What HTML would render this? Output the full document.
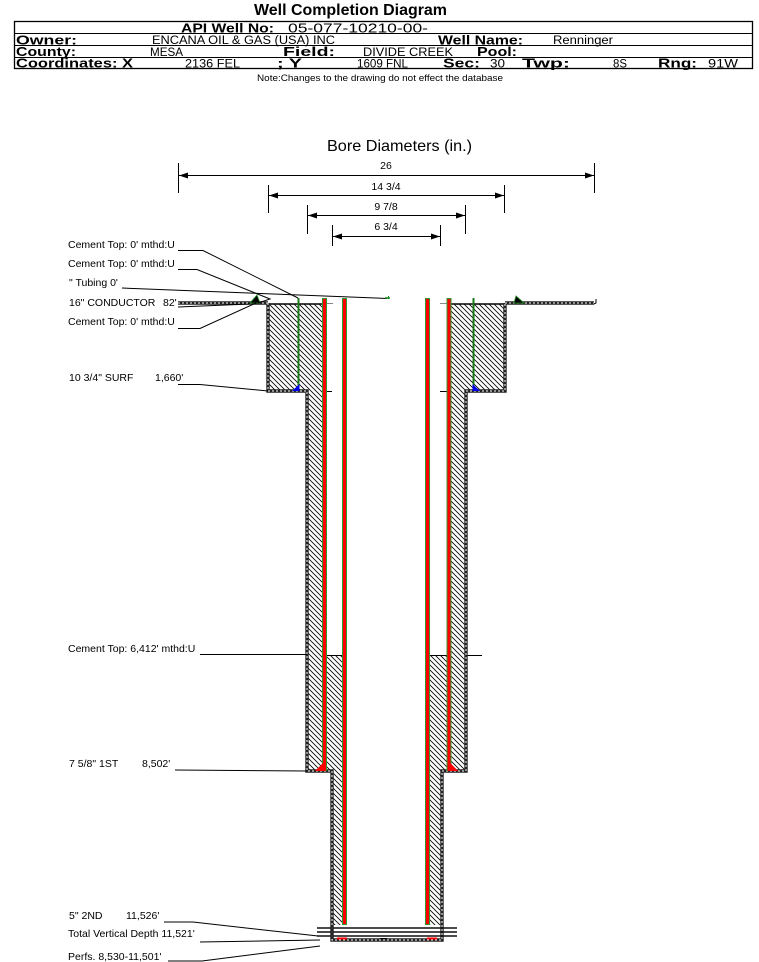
<!DOCTYPE html>
<html><head><meta charset="utf-8"><style>
html,body{margin:0;padding:0;background:#fff;}
svg{display:block;}
text{font-family:"Liberation Sans",Arial,sans-serif;fill:#000;}
.b{font-weight:bold;font-size:12.5px;}
.v{font-size:11.5px;}
.l{font-size:10.5px;}
</style></head><body>
<svg width="759" height="962" viewBox="0 0 759 962" xmlns="http://www.w3.org/2000/svg">
<defs>
<pattern id="h" patternUnits="userSpaceOnUse" width="5" height="5">
<path d="M0,0L5,5M-1,4L1,6M4,-1L6,1" stroke="#000" stroke-width="0.8"/>
</pattern>
</defs>

<!-- Header -->
<text x="254" y="15" font-size="16" font-weight="bold" textLength="193" lengthAdjust="spacingAndGlyphs">Well Completion Diagram</text>
<rect x="14.5" y="21.5" width="738" height="47" fill="none" stroke="#000" stroke-width="1.3"/>
<line x1="14" y1="33.5" x2="753" y2="33.5" stroke="#000" stroke-width="1"/>
<line x1="14" y1="45.5" x2="753" y2="45.5" stroke="#000" stroke-width="1"/>
<line x1="14" y1="57.5" x2="753" y2="57.5" stroke="#000" stroke-width="1"/>

<text class="b" x="181" y="32.5" font-size="13" textLength="93" lengthAdjust="spacingAndGlyphs">API Well No:</text>
<text x="288" y="32.5" font-size="12.5" textLength="140" lengthAdjust="spacingAndGlyphs">05-077-10210-00-</text>

<text class="b" x="16" y="44.5" textLength="61" lengthAdjust="spacingAndGlyphs">Owner:</text>
<text class="v" x="152" y="44" textLength="183" lengthAdjust="spacingAndGlyphs">ENCANA OIL &amp; GAS (USA) INC</text>
<text class="b" x="438" y="44.5" textLength="85" lengthAdjust="spacingAndGlyphs">Well Name:</text>
<text class="v" x="553" y="44" textLength="60" lengthAdjust="spacingAndGlyphs">Renninger</text>

<text class="b" x="16" y="56" textLength="60" lengthAdjust="spacingAndGlyphs">County:</text>
<text class="v" x="150" y="56" textLength="33" lengthAdjust="spacingAndGlyphs">MESA</text>
<text class="b" x="283" y="56" textLength="52" lengthAdjust="spacingAndGlyphs">Field:</text>
<text class="v" x="363" y="56" textLength="90" lengthAdjust="spacingAndGlyphs">DIVIDE CREEK</text>
<text class="b" x="477" y="56" textLength="40" lengthAdjust="spacingAndGlyphs">Pool:</text>

<text class="b" x="16" y="67.5" textLength="117" lengthAdjust="spacingAndGlyphs">Coordinates: X</text>
<text class="v" x="185" y="67.5" textLength="55" lengthAdjust="spacingAndGlyphs">2136 FEL</text>
<text class="b" x="277" y="67.5" textLength="25" lengthAdjust="spacingAndGlyphs">; Y</text>
<text class="v" x="357" y="67.5" textLength="51" lengthAdjust="spacingAndGlyphs">1609 FNL</text>
<text class="b" x="443" y="67.5" textLength="37" lengthAdjust="spacingAndGlyphs">Sec:</text>
<text class="v" x="490" y="67.5" textLength="15" lengthAdjust="spacingAndGlyphs">30</text>
<text class="b" x="522" y="67.5" textLength="48" lengthAdjust="spacingAndGlyphs">Twp:</text>
<text class="v" x="613" y="67.5" textLength="14" lengthAdjust="spacingAndGlyphs">8S</text>
<text class="b" x="658" y="67.5" textLength="39" lengthAdjust="spacingAndGlyphs">Rng:</text>
<text class="v" x="708" y="67.5" textLength="30" lengthAdjust="spacingAndGlyphs">91W</text>

<text x="257" y="81" font-size="9.5" textLength="246" lengthAdjust="spacingAndGlyphs">Note:Changes to the drawing do not effect the database</text>

<!-- Bore diameters -->
<text x="327" y="151" font-size="16" textLength="145" lengthAdjust="spacingAndGlyphs">Bore Diameters (in.)</text>
<g stroke="#000" stroke-width="1">
<line x1="178.5" y1="163" x2="178.5" y2="193"/><line x1="594.5" y1="163" x2="594.5" y2="193"/>
<line x1="179" y1="175.5" x2="594" y2="175.5"/>
<line x1="268.5" y1="185" x2="268.5" y2="213"/><line x1="504.5" y1="185" x2="504.5" y2="213"/>
<line x1="269" y1="195.5" x2="504" y2="195.5"/>
<line x1="307.5" y1="205" x2="307.5" y2="234"/><line x1="465.5" y1="205" x2="465.5" y2="234"/>
<line x1="308" y1="215.5" x2="465" y2="215.5"/>
<line x1="332.5" y1="225" x2="332.5" y2="246"/><line x1="440.5" y1="225" x2="440.5" y2="246"/>
<line x1="333" y1="236.5" x2="440" y2="236.5"/>
</g>
<g fill="#000">
<path d="M179,175.5 L188,172.5 L188,178.5Z"/><path d="M594,175.5 L585,172.5 L585,178.5Z"/>
<path d="M269,195.5 L278,192.5 L278,198.5Z"/><path d="M504,195.5 L495,192.5 L495,198.5Z"/>
<path d="M308,215.5 L317,212.5 L317,218.5Z"/><path d="M465,215.5 L456,212.5 L456,218.5Z"/>
<path d="M333,236.5 L342,233.5 L342,239.5Z"/><path d="M440,236.5 L431,233.5 L431,239.5Z"/>
</g>
<g text-anchor="middle">
<text x="386" y="169" font-size="10.5">26</text>
<text x="386" y="190" font-size="10.5">14 3/4</text>
<text x="386" y="210" font-size="10.5">9 7/8</text>
<text x="386" y="230" font-size="10.5">6 3/4</text>
</g>

<!-- Hatched cement -->
<g fill="url(#h)">
<rect x="268" y="304" width="55" height="87"/>
<rect x="307" y="391" width="16" height="380"/>
<rect x="326" y="655" width="17" height="116"/>
<rect x="332" y="771" width="11" height="154"/>
<rect x="451" y="304" width="54" height="87"/>
<rect x="451" y="391" width="15" height="380"/>
<rect x="429" y="655" width="18" height="116"/>
<rect x="429" y="771" width="13" height="154"/>
</g>
<g stroke="#000" stroke-width="1">
<line x1="268" y1="304" x2="323" y2="304" stroke-width="1.5"/>
<line x1="451" y1="304" x2="505" y2="304" stroke-width="1.5"/>
<line x1="326" y1="655.5" x2="343" y2="655.5"/>
<line x1="429" y1="655.5" x2="447" y2="655.5"/>
<line x1="466" y1="655.5" x2="482" y2="655.5"/>
<line x1="325" y1="391.5" x2="332" y2="391.5"/>
<line x1="440" y1="391.5" x2="447" y2="391.5"/>
</g>
<g stroke="#888" stroke-width="1">
<line x1="323" y1="303.5" x2="333" y2="303.5"/>
<line x1="440" y1="303.5" x2="449" y2="303.5"/>
</g>

<!-- Hole walls and ground lines -->
<g fill="none" stroke="#222" stroke-width="3.4">
<path d="M268,303 V391 H307 V771 H332 V940 H442 V771 H466 V391 H505 V303"/>
<line x1="178" y1="303" x2="268" y2="303"/>
<line x1="505" y1="303" x2="594" y2="303"/>
</g>
<g fill="none" stroke="#fff" stroke-width="1" stroke-dasharray="2,2">
<path d="M268,303 V391 H307 V771 H332 V940 H442 V771 H466 V391 H505 V303"/>
<line x1="178" y1="303" x2="268" y2="303"/>
<line x1="505" y1="303" x2="594" y2="303"/>
</g>
<path d="M594,304 L596,303 L596,299" stroke="#000" stroke-width="1" fill="none"/>

<!-- Surface cement triangles -->
<path d="M250,303 L260,303 L257,295Z" fill="#000" stroke="#1a8a1a" stroke-width="0.8"/>
<path d="M514,303 L524,303 L516,296Z" fill="#000" stroke="#1a8a1a" stroke-width="0.8"/>

<!-- Surface casing -->
<g stroke="#1a7a1a" stroke-width="2">
<line x1="298.5" y1="298" x2="298.5" y2="391"/>
<line x1="473.5" y1="298" x2="473.5" y2="391"/>
</g>
<path d="M292,391 L299.5,391 L299.5,384Z" fill="#0000ee"/>
<path d="M472.5,384 L472.5,391 L480,391Z" fill="#0000ee"/>

<!-- Intermediate casing -->
<g stroke="#2e9a2e" stroke-width="5">
<line x1="324.5" y1="298" x2="324.5" y2="771"/>
<line x1="449" y1="298" x2="449" y2="771"/>
</g>
<g stroke="#ff0000" stroke-width="3">
<line x1="324.5" y1="299" x2="324.5" y2="771"/>
<line x1="449" y1="299" x2="449" y2="771"/>
</g>
<path d="M315,771 L326,771 L326,760Z" fill="#ff0000"/>
<path d="M447.5,760 L447.5,771 L458,771Z" fill="#ff0000"/>

<!-- Production casing -->
<g stroke="#2e9a2e" stroke-width="5">
<line x1="344.5" y1="298" x2="344.5" y2="925"/>
<line x1="427.5" y1="298" x2="427.5" y2="925"/>
</g>
<g stroke="#ff0000" stroke-width="3">
<line x1="344.5" y1="299" x2="344.5" y2="924"/>
<line x1="427.5" y1="299" x2="427.5" y2="924"/>
</g>

<!-- Bottom -->
<g stroke="#111" stroke-width="1.5">
<line x1="317" y1="928" x2="457" y2="928"/>
<line x1="317" y1="932" x2="457" y2="932"/>
<line x1="317" y1="936" x2="457" y2="936"/>
</g>
<g stroke="#ff0000" stroke-width="2">
<line x1="337" y1="938.5" x2="347" y2="938.5"/>
<line x1="427" y1="938.5" x2="437" y2="938.5"/>
</g>
<line x1="380" y1="938.5" x2="387" y2="938.5" stroke="#000" stroke-width="1"/>

<!-- Leader lines -->
<g fill="none" stroke="#000" stroke-width="1">
<path d="M178,250.5 H203 L298,298"/>
<path d="M178,269.5 H197 L270,299 L258,303"/>
<path d="M122,288 L387,298.5"/>
<path d="M178,307 L250,304"/>
<path d="M178,328.5 H200 L256,303"/>
<path d="M178,384.5 H200 L268,391"/>
<path d="M200,654.5 H307"/>
<path d="M175,770 L307,771"/>
<path d="M164,922 H193 L318,936"/>
<path d="M200,942 L320,940"/>
<path d="M168,961 H202 L320,946"/>
</g>
<line x1="385" y1="298" x2="390" y2="298" stroke="#1a8a1a" stroke-width="1.5"/>
<line x1="388.5" y1="296" x2="388.5" y2="299" stroke="#1a8a1a" stroke-width="1"/>

<!-- Labels -->
<g>
<text x="68" y="248" font-size="10.5">Cement Top: 0' mthd:U</text>
<text x="68" y="267" font-size="10.5">Cement Top: 0' mthd:U</text>
<text x="69" y="286" font-size="10.5">" Tubing 0'</text>
<text x="69" y="306" font-size="10.5">16" CONDUCTOR</text>
<text x="163" y="306" font-size="10.5">82'</text>
<text x="68" y="325" font-size="10.5">Cement Top: 0' mthd:U</text>
<text x="69" y="381" font-size="10.5">10 3/4" SURF</text>
<text x="155" y="381" font-size="10.5">1,660'</text>
<text x="68" y="652" font-size="10.5">Cement Top: 6,412' mthd:U</text>
<text x="69" y="767" font-size="10.5">7 5/8" 1ST</text>
<text x="142" y="767" font-size="10.5">8,502'</text>
<text x="69" y="919" font-size="10.5">5" 2ND</text>
<text x="126" y="919" font-size="10.5">11,526'</text>
<text x="68" y="937" font-size="10.5">Total Vertical Depth 11,521'</text>
<text x="68" y="960" font-size="10.5">Perfs. 8,530-11,501'</text>
</g>
</svg>
</body></html>
